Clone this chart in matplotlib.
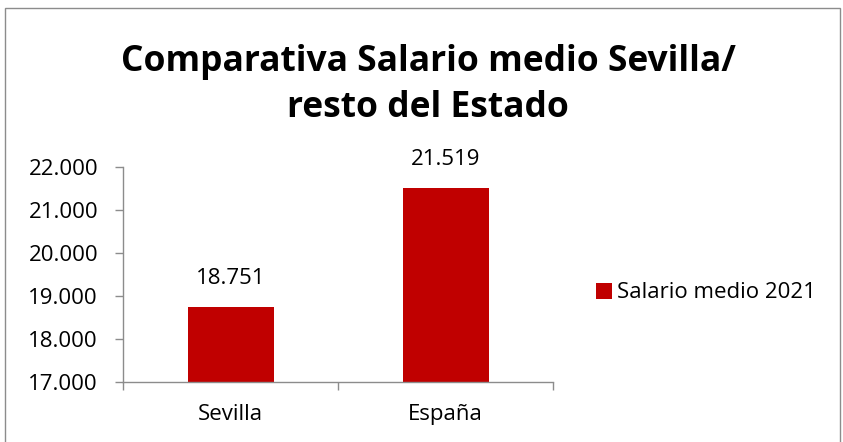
import matplotlib
matplotlib.use("Agg")
import matplotlib.pyplot as plt
from matplotlib.patches import Rectangle
from matplotlib.ticker import FuncFormatter

categories = ["Sevilla", "España"]
values = [18751, 21519]
series_name = "Salario medio 2021"
title = "Comparativa Salario medio Sevilla/\nresto del Estado"
yticks = [17000, 18000, 19000, 20000, 21000, 22000]

FONT = "Open Sans"
RED = "#C00000"
GRAY = "#8C8C8C"
FS = 16

def fmt(v):
    return f"{int(round(v)):,}".replace(",", ".")

fig = plt.figure(figsize=(8.43, 4.42), dpi=100)
fig.patches.append(Rectangle((5/843, -0.1), 835/843, 1.1 - 8/442, transform=fig.transFigure,
                             fill=False, edgecolor=GRAY, linewidth=1.0))

ax = fig.add_axes([123/843, 1 - 382/442, 430/843, 215/442])
x = list(range(len(categories)))
bars = ax.bar(x, values, width=0.4, color=RED, label=series_name, zorder=2)
ax.set_xlim(-0.5, len(categories) - 0.5)
ax.set_ylim(yticks[0], yticks[-1])
ax.set_yticks(yticks)
ax.yaxis.set_major_formatter(FuncFormatter(lambda v, p: fmt(v)))
ax.set_xticks([-0.5, 0.5, 1.5], minor=False)
ax.set_xticklabels([])
ax.set_xticks(x, minor=True)
ax.set_xticklabels(categories, minor=True, fontsize=FS, family=FONT)
ax.tick_params(axis="x", which="minor", length=0, pad=16)
ax.tick_params(axis="x", which="major", length=6, direction="out", color=GRAY, width=1)
ax.tick_params(axis="y", length=6, direction="out", color=GRAY, width=1, labelsize=FS, pad=12)
for lab in ax.get_yticklabels():
    lab.set_family(FONT)
for s in ["top", "right"]:
    ax.spines[s].set_visible(False)
for s in ["left", "bottom"]:
    ax.spines[s].set_color(GRAY)
    ax.spines[s].set_linewidth(1)

for xi, v in zip(x, values):
    ax.annotate(fmt(v), (xi, v), xytext=(0, 20), textcoords="offset points",
                ha="center", va="center", fontsize=FS, family=FONT)

fig.text(428/843, 1 - 85/442, title, ha="center", va="center", fontsize=25.5,
         fontweight="bold", family=FONT, linespacing=1.35)

leg = fig.legend(handles=[bars], labels=[series_name], loc="center left",
                 bbox_to_anchor=(596/843, 1 - 293/442), frameon=False,
                 prop={"family": FONT, "size": FS}, handlelength=0.7, handleheight=0.7,
                 handletextpad=0.25, borderpad=0, borderaxespad=0)

fig.savefig("out.png", dpi=100)
